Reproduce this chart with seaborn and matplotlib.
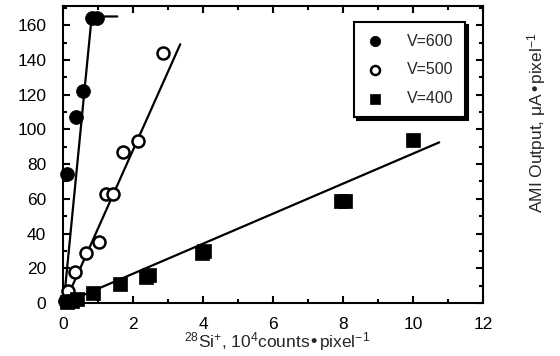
import numpy as np
import pandas as pd
import matplotlib
matplotlib.use("Agg")
import matplotlib.pyplot as plt
from matplotlib.ticker import MultipleLocator
import seaborn as sns

v600_x = [0.05, 0.12, 0.10, 0.37, 0.57, 0.83, 0.98]
v600_y = [1, 2, 74, 107, 122, 164, 164]
v500_x = [0.10, 0.14, 0.34, 0.66, 1.03, 1.22, 1.43, 1.72, 2.15, 2.85]
v500_y = [1, 7, 18, 29, 35, 63, 63, 87, 93, 144]
v400_x = [0.12, 0.25, 0.40, 0.85, 1.62, 2.38, 2.45, 3.97, 4.03, 7.95, 8.05, 10.0]
v400_y = [0.5, 1, 2, 5.5, 11, 15, 16, 29, 30, 59, 59, 94]

# fitted lines as drawn in the figure
fit600_x = [0.02, 0.82, 1.55]
fit600_y = [0, 165, 165]
fit500_x = [0.05, 3.35]
fit500_y = [0, 149]
fit400_x = [0.4, 10.75]
fit400_y = [3, 92.5]

series = ["V=600", "V=500", "V=400"]

sns.set_style("ticks")
plt.rcParams["font.family"] = ["Liberation Sans", "DejaVu Sans"]
plt.rcParams["mathtext.default"] = "regular"

fig = plt.figure(figsize=(5.6, 3.56), dpi=100)
ax = fig.add_axes([0.1125, 0.149, 0.75, 0.834])

pts = pd.concat([
    pd.DataFrame({"x": v600_x, "y": v600_y, "s": series[0]}),
    pd.DataFrame({"x": v500_x, "y": v500_y, "s": series[1]}),
    pd.DataFrame({"x": v400_x, "y": v400_y, "s": series[2]}),
])
fits = pd.concat([
    pd.DataFrame({"x": fit600_x, "y": fit600_y, "s": series[0]}),
    pd.DataFrame({"x": fit500_x, "y": fit500_y, "s": series[1]}),
    pd.DataFrame({"x": fit400_x, "y": fit400_y, "s": series[2]}),
])

for name in series:
    f = fits[fits.s == name]
    sns.lineplot(data=f, x="x", y="y", sort=False, color="black", lw=1.6,
                 ax=ax, legend=False, estimator=None)

style = {
    "V=600": dict(marker="o", s=100, color="black", edgecolor="black", linewidth=0.5),
    "V=500": dict(marker="o", s=75, facecolors="white", edgecolors="black", linewidth=1.8),
    "V=400": dict(marker="s", s=95, color="black", edgecolor="black", linewidth=0.5),
}
for name in series:
    p = pts[pts.s == name]
    sns.scatterplot(data=p, x="x", y="y", ax=ax, label=name, clip_on=False,
                    zorder=3, **style[name])

ax.set_xlim(0, 12)
ax.set_ylim(0, 171)
ax.xaxis.set_major_locator(MultipleLocator(2))
ax.xaxis.set_minor_locator(MultipleLocator(1))
ax.yaxis.set_major_locator(MultipleLocator(20))
ax.yaxis.set_minor_locator(MultipleLocator(10))
ax.tick_params(which="both", direction="in", top=True, right=True,
               width=1.5, labelsize=12.5, colors="black")
ax.tick_params(axis="x", which="major", pad=10)
ax.tick_params(axis="y", which="major", pad=12)
ax.tick_params(which="major", length=5)
ax.tick_params(which="minor", length=3)
for sp in ax.spines.values():
    sp.set_linewidth(1.5)
    sp.set_color("black")

ax.set_xlabel("$^{28}$Si$^{+}$, 10$^{4}$counts\u2022pixel$^{-1}$", fontsize=12.5, labelpad=-1)
ax.xaxis.label.set_x(0.51)
ax.set_ylabel("")

leg = ax.legend(loc="upper right", bbox_to_anchor=(0.957, 0.945), frameon=True,
                shadow={"color": "black", "alpha": 1}, fancybox=False,
                fontsize=11.5, markerscale=0.75, handletextpad=1.4,
                borderpad=0.7, labelspacing=0.85, handlelength=1.2,
                borderaxespad=0)
leg.get_frame().set_edgecolor("black")
leg.get_frame().set_linewidth(1.5)
leg.get_frame().set_alpha(1)

fig.text(0.959, 0.655, "AMI Output, \u03bcA\u2022pixel$^{-1}$", rotation=90,
         ha="center", va="center", fontsize=12.5)

fig.savefig("out.png", dpi=100)
